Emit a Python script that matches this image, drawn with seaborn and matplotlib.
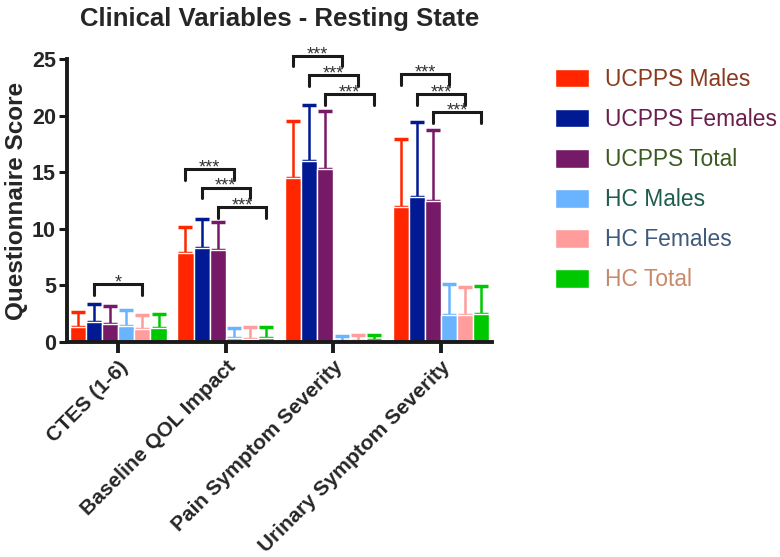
import numpy as np
import matplotlib
matplotlib.use("Agg")
import matplotlib.pyplot as plt
import seaborn as sns
import pandas as pd

categories = ['CTES (1-6)', 'Baseline QOL Impact', 'Pain Symptom Severity', 'Urinary Symptom Severity']
groups = ['UCPPS Males', 'UCPPS Females', 'UCPPS Total', 'HC Males', 'HC Females', 'HC Total']

# mean scores per group (one value per category)
ucpps_males = [1.33, 7.86, 14.45, 11.9]
ucpps_females = [1.77, 8.3, 15.95, 12.85]
ucpps_total = [1.63, 8.16, 15.3, 12.45]
hc_males = [1.39, 0.32, 0.1, 2.4]
hc_females = [1.15, 0.3, 0.1, 2.4]
hc_total = [1.24, 0.32, 0.15, 2.45]

# upper error bars (SD)
ucpps_males_sd = [1.32, 2.3, 5.05, 6.0]
ucpps_females_sd = [1.59, 2.54, 5.02, 6.62]
ucpps_total_sd = [1.53, 2.44, 5.08, 6.31]
hc_males_sd = [1.41, 0.92, 0.4, 2.76]
hc_females_sd = [1.21, 1.03, 0.55, 2.46]
hc_total_sd = [1.26, 1.01, 0.45, 2.53]

# significance brackets: (category, left group, right group, height, label)
brackets = [(0, 1, 4, 5.1, '*'),
            (1, 0, 3, 15.3, '***'), (1, 1, 4, 13.65, '***'), (1, 2, 5, 11.9, '***'),
            (2, 0, 3, 25.3, '***'), (2, 1, 4, 23.55, '***'), (2, 2, 5, 21.9, '***'),
            (3, 0, 3, 23.7, '***'), (3, 1, 4, 21.9, '***'), (3, 2, 5, 20.3, '***')]

colors = ['#FF2600', '#011993', '#761966', '#6AB4FF', '#FF9C9C', '#00C800']
label_colors = ['#8A3A1E', '#6A1F4C', '#3D5A22', '#1E5D4C', '#3F5A7C', '#C8896A']

means = [ucpps_males, ucpps_females, ucpps_total, hc_males, hc_females, hc_total]
sds = [ucpps_males_sd, ucpps_females_sd, ucpps_total_sd, hc_males_sd, hc_females_sd, hc_total_sd]

rows = []
for g, m in zip(groups, means):
    for c, v in zip(categories, m):
        rows.append({'Variable': c, 'Group': g, 'Score': v})
df = pd.DataFrame(rows)

sns.set_style('ticks')
plt.rcParams['font.family'] = ['Liberation Sans', 'DejaVu Sans']

fig = plt.figure(figsize=(7.8, 5.57), dpi=100)
ax = fig.add_axes([0.086, 0.386, 0.545, 0.508])

sns.barplot(data=df, x='Variable', y='Score', hue='Group', order=categories, hue_order=groups,
            palette=colors, saturation=1, width=0.9, edgecolor='white', linewidth=1,
            errorbar=None, ax=ax, zorder=2)
bar_sets = list(ax.containers)

# one-sided error bars from the bar positions (drawn behind the bars)
for i, cont in enumerate(bar_sets):
    xs = [b.get_x() + b.get_width() / 2 for b in cont]
    ys = [b.get_height() for b in cont]
    ax.errorbar(xs, ys, yerr=[np.zeros(len(ys)), sds[i]], fmt='none', ecolor=colors[i],
                elinewidth=1.8, capsize=5, capthick=2.5, zorder=1)

for cat, g1, g2, h, lab in brackets:
    b1 = bar_sets[g1][cat]
    b2 = bar_sets[g2][cat]
    x1 = b1.get_x() + b1.get_width() / 2
    x2 = b2.get_x() + b2.get_width() / 2
    ax.plot([x1, x1, x2, x2], [h - 0.95, h, h, h - 0.95], color='#1a1a1a', lw=2.2,
            clip_on=False, solid_joinstyle='miter', zorder=3)
    ax.text((x1 + x2) / 2, h - 0.3, lab, ha='center', va='baseline', fontsize=13,
            color='#333333', clip_on=False, zorder=4)

ax.set_ylim(0, 25)
ax.set_xlim(-0.475, 3.475)
ax.set_yticks([0, 5, 10, 15, 20, 25])
ax.set_xlabel('')
ax.set_ylabel('Questionnaire Score', fontsize=17.5, fontweight='bold', labelpad=3)
ax.set_title('Clinical Variables - Resting State', fontsize=18.5, fontweight='bold', pad=24)
sns.despine(ax=ax)
for s in ['left', 'bottom']:
    ax.spines[s].set_linewidth(2.8)
    ax.spines[s].set_color('#1a1a1a')
ax.tick_params(axis='y', length=6, width=2.2, labelsize=15.5, color='#1a1a1a', pad=2)
ax.tick_params(axis='x', length=8, width=2.8, labelsize=15, color='#1a1a1a', pad=3)
for t in ax.get_yticklabels():
    t.set_fontweight('bold')
for t in ax.get_xticklabels():
    t.set_fontweight('bold')
    t.set_rotation(45)
    t.set_ha('right')
    t.set_rotation_mode('anchor')

handles, labels = ax.get_legend_handles_labels()
ax.legend_.remove()
leg = fig.legend(handles, labels, loc='upper left', bbox_to_anchor=(0.711, 0.878),
                 frameon=False, fontsize=16.4, handlelength=1.5, handleheight=0.88,
                 labelspacing=0.75, handletextpad=0.7, borderaxespad=0, borderpad=0)
for t, c in zip(leg.get_texts(), label_colors):
    t.set_color(c)

fig.savefig('out.png', dpi=100)
